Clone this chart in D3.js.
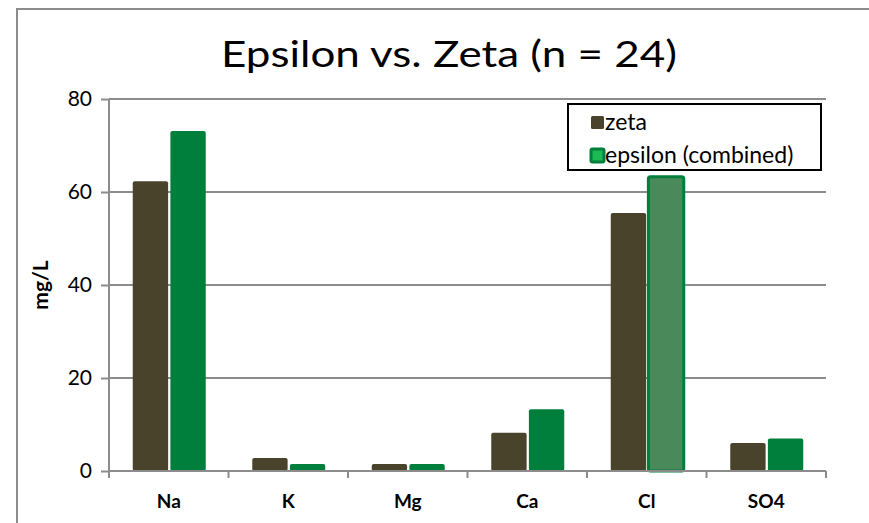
<!DOCTYPE html>
<html>
<head>
<meta charset="utf-8">
<script src="https://cdn.jsdelivr.net/npm/d3@7"></script>
<style>
  body { margin: 0; background: #fff; }
  text { font-family: Lato, "Open Sans", sans-serif; }
</style>
</head>
<body>
<div id="chart"></div>
<script>
// data
var categories = ['Na', 'K', 'Mg', 'Ca', 'Cl', 'SO4'];
var zeta = [62.3, 2.8, 1.5, 8.2, 55.5, 6.0];
var epsilon = [73.1, 1.5, 1.5, 13.3, 63.3, 7.0];
var seriesNames = ['zeta', 'epsilon (combined)'];
var yTicks = [0, 20, 40, 60, 80];

var W = 869, H = 523;
var margin = { top: 99, right: 43, bottom: 52, left: 109 };
var width = W - margin.left - margin.right,
    height = H - margin.top - margin.bottom;

var colZeta = '#4a432c', colEps = '#007f3c';

var svg = d3.select('#chart').append('svg')
    .attr('width', W)
    .attr('height', H);

// outer frame (only top & left visible in the ref)
svg.append('path')
    .attr('d', 'M17,' + H + ' V9 H' + W)
    .attr('fill', 'none')
    .attr('stroke', '#8c8c8c')
    .attr('stroke-width', 2);

svg.append('text')
    .attr('x', 449).attr('y', 67)
    .attr('text-anchor', 'middle')
    .style('font-size', '37px')
    .attr('textLength', 456)
    .attr('lengthAdjust', 'spacingAndGlyphs')
    .text('Epsilon vs. Zeta (n = 24)');

var g = svg.append('g')
    .attr('transform', 'translate(' + margin.left + ',' + margin.top + ')');

var x0 = d3.scaleBand().domain(categories).range([0, width]);
var x1 = d3.scaleBand().domain(seriesNames).range([0, 73]).paddingInner(0.06);
var y = d3.scaleLinear().domain([0, 80]).range([height, 0]);

// gridlines
g.append('g')
    .selectAll('line')
    .data(yTicks.filter(function(d) { return d > 0; }))
  .enter().append('line')
    .attr('x1', 0).attr('x2', width)
    .attr('y1', function(d) { return y(d); })
    .attr('y2', function(d) { return y(d); })
    .attr('stroke', '#8c8c8c')
    .attr('stroke-width', 2);

// y axis
var yAxis = g.append('g')
    .call(d3.axisLeft(y).tickValues(yTicks).tickSize(8).tickPadding(9));
yAxis.select('.domain').attr('stroke', '#8c8c8c').attr('stroke-width', 2)
    .attr('d', 'M0,0V' + (height + 3));
yAxis.selectAll('.tick line').attr('stroke', '#8c8c8c').attr('stroke-width', 2);
yAxis.selectAll('.tick text').style('font-size', '21px').attr('fill', '#000');

svg.append('text')
    .attr('transform', 'translate(48,' + (margin.top + height / 2) + ') rotate(-90)')
    .attr('text-anchor', 'middle')
    .style('font-size', '21px')
    .style('font-weight', 'bold')
    .text('mg/L');

// bars
var rows = categories.map(function(c, i) {
  return [
    { cat: c, key: seriesNames[0], v: zeta[i] },
    { cat: c, key: seriesNames[1], v: epsilon[i] }
  ];
});

var groups = g.append('g').selectAll('g')
    .data(rows)
  .enter().append('g')
    .attr('transform', function(d) {
      return 'translate(' + (x0(d[0].cat) + x0.bandwidth() / 2 - 36) + ',0)';
    });

groups.selectAll('rect')
    .data(function(d) { return d; })
  .enter().append('rect')
    .attr('x', function(d) { return x1(d.key); })
    .attr('width', x1.bandwidth())
    .attr('y', function(d) { return y(d.v); })
    .attr('height', function(d) { return y(0) - y(d.v); })
    .attr('rx', 2)
    .attr('fill', function(d) {
      if (d.cat === 'Cl' && d.key === seriesNames[1]) return '#4a8a5a';
      return d.key === seriesNames[0] ? colZeta : colEps;
    })
    .attr('stroke', function(d) {
      if (d.cat === 'Cl' && d.key === seriesNames[1]) return colEps;
      return 'none';
    })
    .attr('stroke-width', 3);

// x axis
var xAxis = g.append('g')
    .attr('transform', 'translate(0,' + height + ')')
    .call(d3.axisBottom(x0).tickSize(0).tickPadding(24));
xAxis.select('.domain').attr('stroke', '#8c8c8c').attr('stroke-width', 2)
    .attr('d', 'M0,0H' + width);
xAxis.selectAll('.tick text')
    .style('font-size', '19px').style('font-weight', 'bold').attr('fill', '#000');

g.append('g').selectAll('line')
    .data(d3.range(categories.length + 1))
  .enter().append('line')
    .attr('x1', function(i) { return i * x0.step(); })
    .attr('x2', function(i) { return i * x0.step(); })
    .attr('y1', height).attr('y2', height + 7)
    .attr('stroke', '#8c8c8c').attr('stroke-width', 2);

// legend
var leg = svg.append('g').attr('transform', 'translate(568,104)');
leg.append('rect')
    .attr('width', 253).attr('height', 66)
    .attr('fill', '#fff').attr('stroke', '#000').attr('stroke-width', 2);

var items = leg.selectAll('g.item')
    .data(seriesNames)
  .enter().append('g')
    .attr('class', 'item')
    .attr('transform', function(d, i) { return 'translate(23,' + (12 + i * 33) + ')'; });

items.append('rect')
    .attr('width', 13).attr('height', 13).attr('rx', 1.5)
    .attr('fill', function(d, i) { return i === 0 ? colZeta : '#1db954'; })
    .attr('stroke', function(d, i) { return i === 0 ? colZeta : colEps; })
    .attr('stroke-width', function(d, i) { return i === 0 ? 0 : 3; });

items.append('text')
    .attr('x', 14).attr('y', 14)
    .style('font-size', '23px')
    .text(function(d) { return d; });
</script>
</body>
</html>
